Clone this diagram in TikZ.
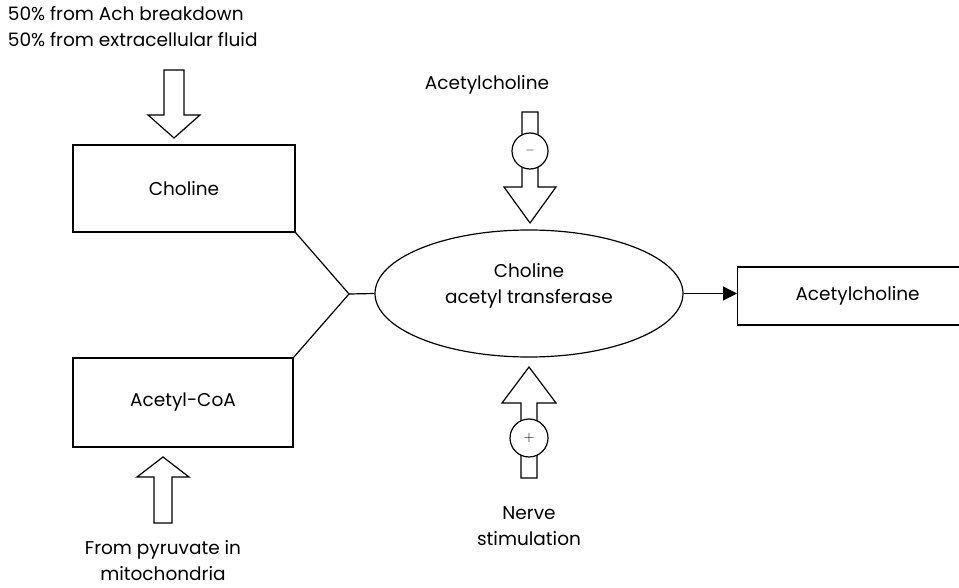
\documentclass[tikz,border=0pt]{standalone}
\usepackage{fontspec}
\setmainfont{Poppins}
\usetikzlibrary{arrows.meta, shapes.geometric, positioning}

\begin{document}
\begin{tikzpicture}[x=1pt,y=-1pt,line width=1.2pt,
  every node/.style={font=\fontsize{18.5}{26}\selectfont},
  box/.style={draw,rectangle,inner sep=0pt},
  sign/.style={draw,circle,fill=white,inner sep=0pt}]
\useasboundingbox (0,0) rectangle (959,588);
\clip (0,0) rectangle (959,588);

\node[align=left,anchor=north west] (source) at (4,2) {50\% from Ach breakdown\\50\% from extracellular fluid};
\node[box,minimum width=222,minimum height=87] (choline) at (184,188.5) {Choline};
\node[box,minimum width=220,minimum height=89] (acoa) at (183,402.5) {Acetyl-CoA};
\node[draw,ellipse,minimum width=308,minimum height=127,align=center,text depth=20pt] (cat) at (529,293.5) {Choline\\acetyl transferase};
\node[box,anchor=west,minimum width=240,minimum height=58] (ach) at (737,296) {Acetylcholine};
\node (inhib) at (487,85) {Acetylcholine};
\node[align=center] (nerve) at (529,526) {Nerve\\stimulation};
\node[align=center] (pyruvate) at (163,561) {From pyruvate in\\mitochondria};
\coordinate (join) at (349,294);

% substrates meet at the enzyme
\draw (choline.south east) -- (join) -- (acoa.north east);
\draw (join) -- (cat.west);
\draw[-{Triangle[length=14pt,width=14pt]}] (cat.east) -- (cat.east -| ach.west);

% supply arrows
\draw[fill=white] (164,70) -- (164,115) -- (148,115) -- (174,138) -- (200,115) -- (184,115) -- (184,70) -- cycle;
\draw[fill=white] (154,523) -- (154,477) -- (137,477) -- (163,457) -- (189,477) -- (172,477) -- (172,523) -- cycle;

% regulation of the enzyme
\draw (522,112) -- (522,187) -- (504,187) -- (530,223) -- (556,187) -- (538,187) -- (538,112) -- cycle;
\node[sign,minimum size=36] (minus) at (530,151) {\fontsize{12}{12}\selectfont$-$};
\draw (521,478) -- (521,403) -- (502,403) -- (529,367) -- (556,403) -- (537,403) -- (537,478) -- cycle;
\node[sign,minimum size=38] (plus) at (529,438) {\fontsize{14}{14}\selectfont$+$};
\end{tikzpicture}
\end{document}
